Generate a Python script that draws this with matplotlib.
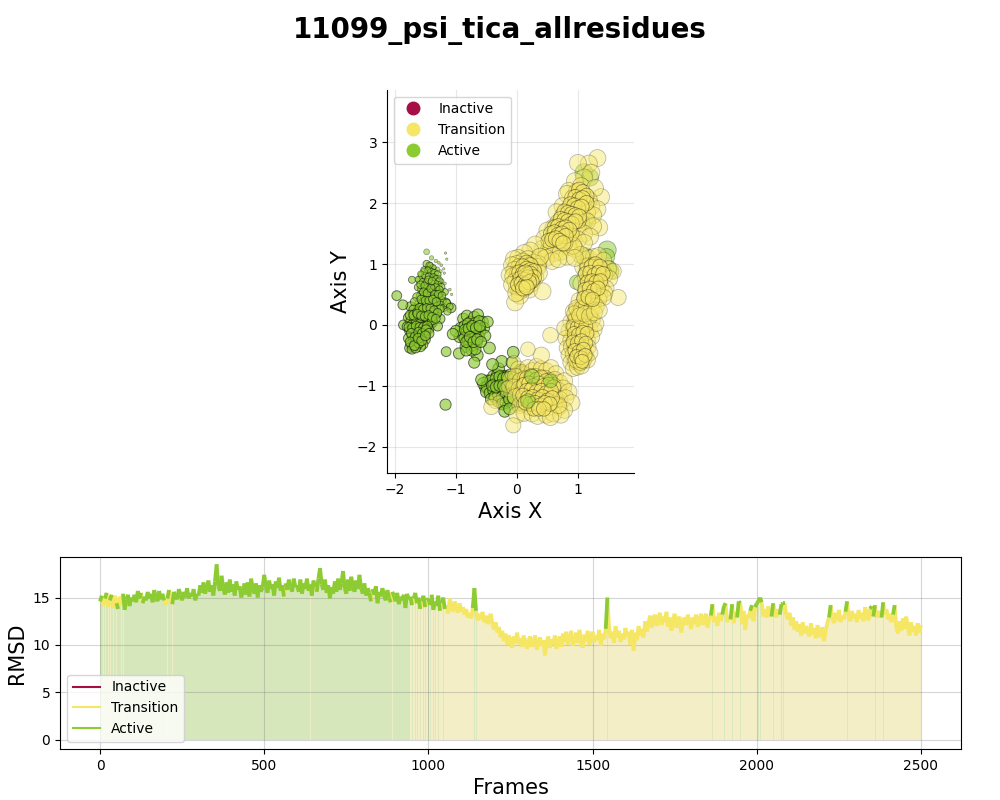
import numpy as np
import matplotlib
matplotlib.use("Agg")
import matplotlib.pyplot as plt
from matplotlib.lines import Line2D
from matplotlib.collections import LineCollection
from matplotlib.colors import to_rgba

TITLE = "11099_psi_tica_allresidues"
STATE_NAMES = ["Inactive", "Transition", "Active"]
STATE_COLORS = {"Inactive": "#A50F45", "Transition": "#F5E663", "Active": "#8CCB32"}
PALE_COLORS = {"Transition": "#F3EEC5", "Active": "#D6E7BB"}

tiny_x = [-1.48,-1.40,-1.33,-1.28,-1.24,-1.20,-1.19,-1.17,-1.15,-1.25,-1.30,-1.36,-1.42,-1.46,-1.52,-1.58,-1.63,-1.27,-1.22,-1.18,-1.32,-1.38,-1.10,-1.07]
tiny_y = [1.20,1.10,1.05,1.02,0.98,0.92,0.85,1.18,1.08,0.88,0.92,0.95,0.98,0.90,0.88,0.84,0.75,0.78,0.72,0.68,0.70,0.62,0.58,0.50]
tiny_s = [18,10,6,4,4,3,3,3,3,5,8,10,14,16,20,18,14,6,5,4,8,10,4,3]

left_up_x = [-1.48,-1.43,-1.38,-1.52,-1.45,-1.40,-1.35,-1.30,-1.56,-1.50,-1.44,-1.37,-1.32,-1.27,-1.60,-1.54,-1.47,-1.41,-1.35,-1.29,-1.24,-1.62,-1.56,-1.50,-1.44,-1.38,-1.32,-1.26,-1.58,-1.52,-1.46,-1.40,-1.34,-1.28,-1.22,-1.60,-1.54,-1.48,-1.42,-1.36,-1.30,-1.25,-1.55,-1.49,-1.43,-1.37,-1.31,-1.64,-1.68,-1.20,-1.15,-1.72,-1.10,-1.18,-1.14,-1.58,-1.51,-1.45,-1.39,-1.33,-1.27,-1.53,-1.47,-1.41,-1.35,-1.29,-1.23,-1.57,-1.50,-1.44,-1.38,-1.32,-1.26,-1.60,-1.54,-1.48,-1.42,-1.36,-1.30,-1.63,-1.57,-1.51,-1.45,-1.39,-1.33]
left_up_y = [1.00,0.97,0.93,0.90,0.90,0.87,0.85,0.83,0.82,0.80,0.79,0.78,0.75,0.72,0.74,0.70,0.70,0.68,0.67,0.65,0.62,0.62,0.58,0.60,0.57,0.55,0.56,0.52,0.48,0.46,0.47,0.44,0.43,0.45,0.40,0.36,0.34,0.35,0.32,0.33,0.30,0.32,0.24,0.22,0.23,0.20,0.18,0.46,0.38,0.28,0.36,0.74,0.30,0.54,0.22,0.66,0.64,0.74,0.72,0.62,0.58,0.54,0.52,0.60,0.50,0.50,0.48,0.42,0.40,0.40,0.42,0.38,0.26,0.28,0.26,0.28,0.27,0.24,0.20,0.18,0.15,0.14,0.16,0.13,0.10]
left_up_s = [28,30,26,25,30,28,30,25,28,32,30,28,30,28,30,32,30,34,32,30,28,30,34,36,34,32,34,30,36,38,36,36,36,34,30,38,40,38,38,38,36,34,40,42,40,40,38,36,34,28,30,26,24,24,28,30,32,30,30,30,28,34,34,34,34,32,30,36,36,36,36,36,34,38,38,38,38,38,36,42,42,42,42,42,40]

left_low_x = [-1.86,-1.78,-1.70,-1.62,-1.55,-1.48,-1.42,-1.74,-1.68,-1.60,-1.53,-1.46,-1.40,-1.80,-1.72,-1.65,-1.58,-1.51,-1.44,-1.76,-1.69,-1.62,-1.55,-1.49,-1.72,-1.66,-1.59,-1.52,-1.78,-1.70,-1.64,-1.57,-1.50,-1.74,-1.67,-1.60,-1.54,-1.76,-1.70,-1.64,-1.58,-1.72,-1.66,-1.61,-1.74,-1.69,-1.55,-1.66,-1.97,-1.87,-1.34,-1.26,-1.17,-1.08,-1.16,-1.38,-1.30,-1.75,-1.69,-1.63,-1.57,-1.51,-1.45,-1.39,-1.77,-1.71,-1.65,-1.59,-1.53,-1.47,-1.73,-1.67,-1.61,-1.55,-1.49,-1.44,-1.75,-1.68,-1.62,-1.56,-1.50]
left_low_y = [0.00,0.12,0.20,0.25,0.22,0.18,0.14,0.06,0.10,0.14,0.10,0.06,0.02,-0.03,0.00,0.03,0.02,-0.02,-0.06,-0.10,-0.08,-0.06,-0.08,-0.12,-0.18,-0.15,-0.16,-0.18,-0.22,-0.25,-0.24,-0.22,-0.24,-0.32,-0.30,-0.28,-0.32,-0.38,-0.36,-0.34,-0.36,-0.40,-0.38,-0.30,0.30,0.25,0.30,-0.10,0.48,0.33,0.18,0.10,0.36,0.28,-0.44,0.05,-0.02,0.16,0.16,0.20,0.18,0.14,0.10,0.08,-0.04,-0.05,-0.02,-0.04,-0.04,-0.02,-0.14,-0.20,-0.12,-0.14,-0.08,-0.14,-0.28,-0.34,-0.22,-0.26,-0.18]
left_low_s = [50]*81

green_low_x = [-0.52,-0.48,-0.44,-0.38,-0.32,-0.26,-0.20,-0.55,-0.49,-0.43,-0.37,-0.31,-0.25,-0.18,-0.12,-0.50,-0.44,-0.38,-0.32,-0.26,-0.20,-0.14,-0.08,-0.42,-0.36,-0.30,-0.24,-0.18,-0.12,-0.30,-0.24,-0.18,-0.12,-0.06,-0.06,0.00,0.06,0.12,0.02,-0.20,-0.12,-0.30,-0.25,-0.08,-0.40,-0.65,-0.45,-0.22,-0.06,-0.58,-0.34,-0.28,-0.22,-0.16,-0.10,-0.04,0.02,-0.40,-0.34,-0.28,-0.22,-0.16,-0.10,-0.04,0.04,0.10]
green_low_y = [-1.02,-0.92,-1.08,-0.84,-0.82,-0.90,-0.84,-0.96,-1.02,-0.92,-0.98,-0.94,-0.98,-0.95,-0.90,-1.10,-1.12,-1.08,-1.05,-1.06,-1.05,-1.04,-1.00,-1.22,-1.18,-1.15,-1.18,-1.16,-1.12,-1.26,-1.30,-1.28,-1.22,-1.20,-0.85,-0.82,-0.74,-0.78,-1.32,-1.42,-1.38,-0.72,-0.60,-0.62,-0.65,-0.50,-0.38,-0.85,-0.45,-0.90,-0.88,-0.85,-0.88,-0.86,-0.82,-0.88,-0.90,-1.00,-1.02,-1.00,-1.00,-1.02,-0.98,-1.02,-1.00,-0.96]
green_low_s = [72]*66

mid_x = [-0.88,-0.82,-0.76,-0.70,-0.64,-0.56,-0.92,-0.86,-0.80,-0.74,-0.68,-0.62,-0.54,-0.90,-0.84,-0.78,-0.72,-0.66,-0.60,-0.94,-0.86,-0.80,-0.74,-0.68,-0.62,-0.84,-0.78,-0.72,-0.66,-0.74,-0.68,-1.00,-0.52,-0.48,-0.70,-0.95,-0.83,-1.17,-1.05,-0.85,-0.79,-0.73,-0.67,-0.61,-0.83,-0.77,-0.71,-0.65,-0.59]
mid_y = [0.10,0.15,0.05,0.13,0.17,0.05,-0.05,-0.02,0.02,-0.04,0.03,0.06,-0.05,-0.16,-0.12,-0.10,-0.14,-0.08,-0.10,-0.20,-0.22,-0.26,-0.24,-0.18,-0.20,-0.36,-0.32,-0.34,-0.30,-0.42,-0.40,-0.10,-0.18,0.05,-0.62,-0.47,-0.42,-1.31,-0.15,-0.08,-0.06,-0.02,-0.05,-0.02,-0.28,-0.20,-0.28,-0.24,-0.28]
mid_s = [65]*49

yellow_bottom_x = [-0.35,-0.05,0.02,0.10,0.18,0.25,0.32,0.40,0.48,0.56,0.64,-0.10,-0.02,0.06,0.14,0.22,0.30,0.38,0.46,0.54,0.62,0.70,0.78,-0.15,-0.05,0.04,0.12,0.20,0.28,0.36,0.44,0.52,0.60,0.68,0.76,0.85,-0.02,0.06,0.14,0.22,0.30,0.38,0.46,0.54,0.62,0.70,0.80,0.90,0.05,0.13,0.21,0.29,0.37,0.45,0.53,0.61,0.69,0.78,0.00,0.12,0.25,0.34,0.48,0.60,0.72,-0.06,0.55,0.68,0.40,0.18,-0.42]
yellow_bottom_y = [-1.25,-0.62,-0.72,-0.78,-0.70,-0.75,-0.68,-0.72,-0.75,-0.70,-0.80,-0.90,-0.85,-0.92,-0.88,-0.92,-0.85,-0.90,-0.88,-0.92,-0.90,-0.95,-0.92,-1.05,-1.02,-1.05,-1.00,-1.06,-1.00,-1.05,-1.02,-1.05,-1.00,-1.08,-1.04,-1.10,-1.18,-1.15,-1.20,-1.16,-1.18,-1.15,-1.20,-1.16,-1.18,-1.22,-1.20,-1.28,-1.32,-1.30,-1.35,-1.30,-1.34,-1.30,-1.35,-1.30,-1.35,-1.40,-1.48,-1.45,-1.46,-1.50,-1.48,-1.46,-1.48,-1.65,-1.52,-1.32,-0.50,-0.40,-1.35]
yellow_bottom_s = [120,100,120,120,130,130,130,130,130,130,130,140,140,140,140,140,140,140,140,140,140,140,140,130,130,140,140,140,140,140,140,140,140,140,140,140,140,140,140,140,140,140,140,140,140,140,140,140,140,140,140,140,140,140,140,140,140,140,140,140,140,140,140,140,140,120,140,140,140,110,120]
core_bottom_x = [0.16,0.24,0.32,0.40,0.48,0.12,0.20,0.28,0.36,0.44,0.52,0.60,0.16,0.24,0.32,0.40,0.48,0.56,0.10,0.18,0.26,0.34,0.42,0.50,0.58,0.22,0.30,0.38,0.46,0.54,0.14,0.28,0.36,0.44]
core_bottom_y = [-0.88,-0.84,-0.90,-0.86,-0.92,-0.98,-0.96,-1.00,-0.96,-1.00,-0.98,-1.02,-1.08,-1.06,-1.10,-1.08,-1.12,-1.08,-1.16,-1.20,-1.18,-1.22,-1.18,-1.24,-1.20,-1.30,-1.28,-1.32,-1.28,-1.30,-1.28,-1.38,-1.38,-1.38]

yellow_rlow_x = [0.55,0.92,0.98,1.05,1.12,1.20,0.88,0.95,1.02,1.09,1.16,1.24,0.85,0.92,0.99,1.06,1.13,1.20,1.27,0.80,0.88,0.95,1.02,1.09,1.16,1.23,0.82,0.89,0.96,1.03,1.10,1.17,0.85,0.92,0.99,1.06,1.13,1.20,0.88,0.95,1.02,1.09,1.16,0.92,0.99,1.06,0.97,1.04,0.78,1.30,0.95,1.12]
yellow_rlow_y = [-0.17,0.22,0.25,0.20,0.25,0.18,0.05,0.08,0.05,0.10,0.04,0.08,-0.10,-0.08,-0.12,-0.06,-0.10,-0.06,-0.08,-0.22,-0.25,-0.22,-0.26,-0.22,-0.25,-0.20,-0.38,-0.36,-0.40,-0.36,-0.40,-0.36,-0.50,-0.48,-0.52,-0.48,-0.52,-0.46,-0.62,-0.60,-0.64,-0.60,-0.58,-0.72,-0.70,-0.68,-0.58,-0.62,-0.05,0.02,-0.05,0.35]
yellow_rlow_s = [125]*52
core_rlow_x = [0.96,1.03,1.10,0.92,0.99,1.06,1.13,0.94,1.01,1.08,1.15,0.92,0.99,1.06,1.13,0.95,1.02,1.09,0.98,1.05,1.12,1.00,1.07]
core_rlow_y = [0.10,0.12,0.08,-0.02,-0.04,0.00,-0.02,-0.14,-0.16,-0.12,-0.14,-0.28,-0.30,-0.26,-0.30,-0.42,-0.44,-0.40,-0.52,-0.54,-0.50,0.18,-0.60]

yellow_rup_x = [1.10,1.18,1.26,1.34,1.42,1.08,1.16,1.24,1.32,1.40,1.50,1.58,1.12,1.20,1.28,1.36,1.44,1.52,1.05,1.14,1.22,1.30,1.38,1.46,1.66,1.12,1.20,1.28,1.36,1.44,1.02,1.10,1.18,1.26,1.34,1.42,0.98,1.06,1.14,1.22,1.30,0.95,1.03,1.11,1.19,1.27,1.35]
yellow_rup_y = [1.12,1.10,1.12,1.14,1.06,0.95,0.92,0.98,0.95,0.90,0.92,0.88,0.80,0.78,0.82,0.78,0.82,0.76,0.68,0.66,0.62,0.68,0.62,0.60,0.45,0.52,0.50,0.55,0.48,0.52,0.40,0.38,0.42,0.38,0.42,0.45,0.28,0.26,0.30,0.25,0.30,0.18,0.15,0.18,0.14,0.20,0.24]
yellow_rup_s = [135]*47
core_rup_x = [1.15,1.22,1.29,1.36,1.13,1.20,1.27,1.34,1.41,1.16,1.23,1.30,1.37,1.12,1.19,1.26,1.33,1.10,1.17,1.24]
core_rup_y = [0.98,0.96,1.00,0.96,0.84,0.86,0.82,0.86,0.84,0.70,0.72,0.70,0.72,0.58,0.60,0.56,0.60,0.44,0.46,0.42]

yellow_top_x = [1.32,1.18,1.00,1.22,1.10,0.95,1.05,0.85,1.38,1.28,0.98,1.08,1.18,0.82,0.92,1.02,1.12,1.22,1.32,0.75,0.85,0.95,1.05,1.15,1.25,1.35,0.65,0.75,0.85,0.95,1.05,1.15,1.25,0.60,0.70,0.80,0.90,1.00,1.10,1.20,0.50,0.60,0.70,0.80,0.90,1.00,1.10,0.45,0.55,0.65,0.75,0.85,0.95,1.05,0.42,0.52,0.62,0.72,0.82,0.92,0.38,0.48,0.58,0.68,0.78,0.88,1.00,0.35,0.95,0.68]
yellow_top_y = [2.74,2.65,2.66,2.50,2.42,2.36,2.28,2.20,2.10,2.25,2.18,2.12,2.05,2.15,2.08,2.02,2.00,1.95,1.90,1.95,1.90,1.88,1.82,1.85,1.80,1.60,1.85,1.78,1.75,1.72,1.68,1.70,1.62,1.60,1.65,1.58,1.55,1.60,1.50,1.45,1.55,1.45,1.48,1.40,1.45,1.40,1.35,1.42,1.32,1.38,1.30,1.28,1.25,1.15,1.25,1.22,1.18,1.20,1.12,1.30,1.12,1.10,1.05,1.08,1.35,1.50,1.72,1.00,1.10,1.68]
yellow_top_s = [150]*70
core_top_x = [1.02,1.08,1.14,0.96,1.02,1.08,1.14,0.88,0.94,1.00,1.06,0.78,0.84,0.90,0.96,1.02,0.72,0.78,0.84,0.90,0.96,0.62,0.68,0.74,0.80,0.86,0.56,0.62,0.68,0.74,0.80,0.52,0.58,0.64,0.70,0.76]
core_top_y = [2.22,2.18,2.12,2.10,2.06,2.08,2.00,1.98,1.96,1.92,1.94,1.86,1.84,1.82,1.80,1.78,1.74,1.72,1.70,1.66,1.70,1.60,1.62,1.58,1.60,1.56,1.50,1.52,1.48,1.50,1.46,1.38,1.40,1.42,1.38,1.34]

yellow_left_x = [0.30,0.22,0.12,0.02,-0.05,0.18,0.10,0.00,-0.08,0.28,0.20,0.12,0.04,-0.04,-0.12,0.34,0.26,0.18,0.10,0.02,-0.06,0.30,0.22,0.14,0.06,-0.02,0.24,0.16,0.08,0.00,-0.08,0.20,0.12,0.04,0.05,-0.03,0.20,0.38,0.42,-0.01,0.15,0.36]
yellow_left_y = [1.32,1.22,1.18,1.10,1.08,1.08,1.04,1.00,0.98,1.02,0.98,0.92,0.95,0.90,0.82,0.95,0.90,0.86,0.82,0.85,0.80,0.78,0.78,0.74,0.75,0.72,0.68,0.66,0.68,0.62,0.66,0.58,0.60,0.55,0.48,0.37,0.82,1.12,0.55,0.52,0.72,0.85]
yellow_left_s = [150]*42
core_left_x = [0.16,0.22,0.10,0.16,0.22,0.28,0.04,0.10,0.16,0.22,0.28,0.06,0.12,0.18,0.24,0.02,0.08,0.14,0.20,0.10,0.16,0.14]
core_left_y = [1.02,0.98,0.96,0.92,0.90,0.88,0.86,0.84,0.82,0.84,0.78,0.76,0.74,0.78,0.72,0.66,0.68,0.66,0.70,0.60,0.62,0.86]

green_big_x = [1.48,1.47,1.12,1.18,1.50,1.55,1.40,1.10,1.20,0.25,0.18,0.98,0.55,1.25,1.15]
green_big_y = [1.23,1.12,1.12,0.82,0.92,0.88,0.85,2.50,2.42,-0.85,-1.25,0.70,-0.92,0.60,1.72]
green_big_s = [170,140,170,130,150,120,130,170,150,110,110,110,100,110,110]

# RMSD, one sample every 5 frames, each row covers 100 frames
frame_step = 5
rmsd = [
 14.6,15.2,14.1,14.9,15.5,14.0,14.7,15.3,13.9,15.2,14.4,13.8,15.1,14.3,15.4,13.7,14.8,15.3,14.1,15.0,
 14.6,15.3,14.5,15.7,14.9,15.5,14.4,15.1,14.7,15.6,14.9,15.4,14.5,15.8,15.0,14.6,15.7,14.8,15.4,14.7,
 14.2,14.9,15.8,15.1,14.3,15.6,15.2,14.8,15.9,15.3,14.7,15.6,15.0,16.0,14.9,15.5,15.1,15.9,14.7,15.4,
 15.2,16.3,15.5,16.6,15.4,16.1,16.8,15.6,16.3,15.2,16.7,18.5,16.2,15.7,17.3,16.1,15.3,16.6,15.5,16.9,
 15.6,16.4,15.2,16.7,15.8,16.2,15.0,15.7,16.5,15.3,16.6,15.1,17.0,16.0,15.4,16.5,15.0,16.3,15.6,16.1,
 17.4,16.2,15.5,16.8,15.9,16.4,15.2,16.7,16.0,17.1,15.7,16.3,15.1,16.5,15.8,16.9,16.2,15.6,17.0,16.1,
 16.3,15.6,16.9,15.4,16.5,15.9,17.0,15.7,16.4,15.2,16.8,16.1,15.6,17.0,18.1,16.4,15.8,16.9,15.5,16.3,
 14.9,16.1,15.4,16.7,15.6,17.0,15.8,16.5,17.8,16.0,15.4,16.9,15.7,17.2,16.2,15.6,16.8,15.9,17.4,16.0,
 15.4,16.5,15.2,16.0,15.5,14.6,15.9,15.3,16.2,14.4,15.6,15.1,16.0,15.2,14.7,15.8,15.0,14.5,15.6,15.2,
 14.6,15.5,14.3,15.1,14.7,15.3,13.9,15.4,14.8,15.1,14.2,14.9,15.5,14.4,15.0,13.8,14.6,15.2,14.0,14.7,
 14.9,14.2,15.3,13.7,14.6,14.1,15.2,13.6,14.4,15.0,13.8,14.2,13.3,14.9,14.1,13.5,14.6,14.0,13.4,14.4,
 13.5,14.0,13.2,13.8,12.9,13.4,12.8,13.9,16.0,13.6,12.6,13.3,12.7,13.5,12.4,13.1,12.2,12.8,13.3,12.2,
 11.6,12.4,11.3,11.9,10.8,11.5,10.4,11.2,10.0,11.0,10.5,9.7,10.9,10.2,11.3,10.1,10.7,9.8,11.0,10.3,
 9.6,10.6,10.9,9.8,10.3,11.0,9.5,10.4,10.8,9.9,10.5,8.9,10.2,10.9,9.7,10.6,10.0,11.0,9.6,10.4,
 10.9,9.8,11.2,10.3,11.4,10.0,10.8,11.5,9.9,10.6,11.3,10.2,11.6,10.5,9.7,11.1,10.4,11.5,10.0,10.8,
 11.4,10.3,11.0,10.5,11.6,9.9,11.2,10.6,11.7,15.0,11.9,10.7,11.4,10.2,12.0,10.8,11.5,10.3,11.2,10.6,
 11.8,10.9,11.4,10.0,11.6,9.4,11.3,10.5,12.0,11.0,11.7,10.8,12.5,11.4,12.2,13.1,11.8,12.8,13.2,12.0,
 12.8,13.4,12.1,13.0,12.4,13.5,11.9,12.9,11.5,12.7,13.3,11.8,12.6,13.0,11.3,12.4,12.9,12.1,13.2,12.5,
 11.7,12.9,12.2,13.2,11.9,12.6,13.3,12.1,12.8,13.3,11.8,12.7,13.1,14.3,12.4,13.0,12.0,13.4,12.5,13.2,
 14.1,14.4,12.4,13.1,12.7,14.3,12.3,13.5,12.9,14.6,14.4,12.2,13.6,11.6,13.2,12.8,13.6,14.2,12.5,14.0,
 14.4,14.6,15.0,14.5,13.0,13.8,12.9,14.1,13.4,13.0,14.4,13.6,12.9,13.8,13.2,14.3,14.4,14.4,13.1,12.7,
 13.4,12.0,12.9,11.6,12.5,11.4,12.2,11.0,12.4,11.2,12.0,11.5,10.9,12.3,11.1,11.8,10.7,12.1,11.3,10.8,
 11.9,10.4,11.6,12.3,12.9,14.2,13.0,12.3,13.4,12.6,13.7,12.4,13.1,12.7,13.5,14.6,13.0,12.5,13.6,12.8,
 13.3,12.4,13.7,12.8,13.4,12.5,14.0,13.3,12.6,13.8,14.1,13.0,14.2,12.9,13.6,13.2,12.9,14.5,13.2,13.8,
 12.7,13.3,12.4,13.2,14.2,11.8,11.2,12.5,11.5,12.8,11.7,13.0,11.9,11.0,12.4,11.4,12.0,11.0,12.3,11.3,
 12.1,
]

transition_frames = [10,15,25,30,40,45,50,60,65,70,130,200,205,215,220,565,640,660,830,855,890]
active_until = 945
active_late_frames = [950,960,965,975,985,990,1000,1005,1015,1020,1030,1035,1045,1050,1140,1145,1545,1865,1900,1905,1925,1945,1950,1985,2000,2005,2010,2015,2050,2075,2080,2085,2225,2275,2350,2360,2385,2420]

frames = np.arange(len(rmsd)) * frame_step
rmsd_arr = np.array(rmsd)
states = []
for f in frames:
    if f < active_until:
        states.append("Transition" if f in transition_frames else "Active")
    else:
        states.append("Active" if f in active_late_frames else "Transition")

fig = plt.figure(figsize=(10, 8), dpi=100)
ax1 = fig.add_axes([0.387, 0.409, 0.247, 0.479])
ax2 = fig.add_axes([0.060, 0.064, 0.901, 0.240])

tc = STATE_COLORS["Transition"]
ac = STATE_COLORS["Active"]


def draw(gx, gy, gs, col, face_a, edge_a, lw=0.6):
    ax1.scatter(gx, gy, s=gs, facecolors=[to_rgba(col, face_a)],
                edgecolors=[(0, 0, 0, edge_a)], linewidths=lw, zorder=3)


draw(green_low_x, green_low_y, green_low_s, ac, 0.65, 0.55, 0.7)
draw(mid_x, mid_y, mid_s, ac, 0.65, 0.55, 0.7)
draw(left_low_x, left_low_y, left_low_s, ac, 0.65, 0.55, 0.7)
draw(left_up_x, left_up_y, left_up_s, ac, 0.65, 0.55, 0.6)
draw(tiny_x, tiny_y, tiny_s, ac, 0.6, 0.45, 0.4)
draw(yellow_bottom_x, yellow_bottom_y, yellow_bottom_s, tc, 0.45, 0.25)
draw(core_bottom_x, core_bottom_y, [110] * len(core_bottom_x), tc, 0.55, 0.38)
draw(yellow_rlow_x, yellow_rlow_y, yellow_rlow_s, tc, 0.45, 0.25)
draw(core_rlow_x, core_rlow_y, [100] * len(core_rlow_x), tc, 0.55, 0.38)
draw(green_big_x, green_big_y, green_big_s, ac, 0.5, 0.3)
draw(yellow_rup_x, yellow_rup_y, yellow_rup_s, tc, 0.45, 0.25)
draw(core_rup_x, core_rup_y, [110] * len(core_rup_x), tc, 0.55, 0.38)
draw(yellow_top_x, yellow_top_y, yellow_top_s, tc, 0.45, 0.25)
draw(core_top_x, core_top_y, [120] * len(core_top_x), tc, 0.55, 0.38)
draw(yellow_left_x, yellow_left_y, yellow_left_s, tc, 0.45, 0.25)
draw(core_left_x, core_left_y, [120] * len(core_left_x), tc, 0.55, 0.38)

ax1.set_xlim(-2.13, 1.92)
ax1.set_ylim(-2.43, 3.865)
ax1.set_xticks([-2, -1, 0, 1])
ax1.set_yticks([-2, -1, 0, 1, 2, 3])
ax1.set_xlabel("Axis X", fontsize=15)
ax1.set_ylabel("Axis Y", fontsize=15)
ax1.grid(True, alpha=0.3, zorder=0)
ax1.set_axisbelow(True)
ax1.spines["top"].set_visible(False)
ax1.spines["right"].set_visible(False)
handles = [Line2D([], [], marker="o", linestyle="", markersize=9, color=STATE_COLORS[n], label=n) for n in STATE_NAMES]
ax1.legend(handles=handles, loc="upper left", fontsize=10)

band_h = rmsd_arr[:-1]
band_f = frames[:-1]
base_state = ["Active" if f < active_until else "Transition" for f in band_f]
ax2.bar(band_f, band_h, width=frame_step, align="edge", linewidth=0, zorder=1,
        color=[PALE_COLORS[s] for s in base_state])
off = np.array([s != b for s, b in zip(states[:-1], base_state)])
off_colors = [PALE_COLORS[s] for s, o in zip(states[:-1], off) if o]
ax2.bar(band_f[off], band_h[off], width=1.8, align="edge", linewidth=0, zorder=1.5,
        color=off_colors, alpha=0.8)

pts = np.column_stack([frames, rmsd_arr])
segs = np.stack([pts[:-1], pts[1:]], axis=1)
seg_colors = [STATE_COLORS[s] for s in states[1:]]
order = sorted(range(len(segs)), key=lambda i: states[i + 1] == "Active")
ax2.add_collection(LineCollection(segs[order], colors=[seg_colors[i] for i in order],
                                  linewidths=2.7, zorder=3, capstyle="butt"))
ax2.set_xlim(-122, 2622)
ax2.set_ylim(-0.95, 19.3)
ax2.set_xticks([0, 500, 1000, 1500, 2000, 2500])
ax2.set_yticks([0, 5, 10, 15])
ax2.set_xlabel("Frames", fontsize=15)
ax2.set_ylabel("RMSD", fontsize=15)
ax2.grid(True, alpha=0.3, zorder=2, color="#777777")
handles2 = [Line2D([], [], color=STATE_COLORS[n], lw=1.5, label=n) for n in STATE_NAMES]
ax2.legend(handles=handles2, loc="lower left", fontsize=10)

fig.suptitle(TITLE, fontsize=20, fontweight="bold", y=0.98)
fig.savefig("out.png", dpi=100)
